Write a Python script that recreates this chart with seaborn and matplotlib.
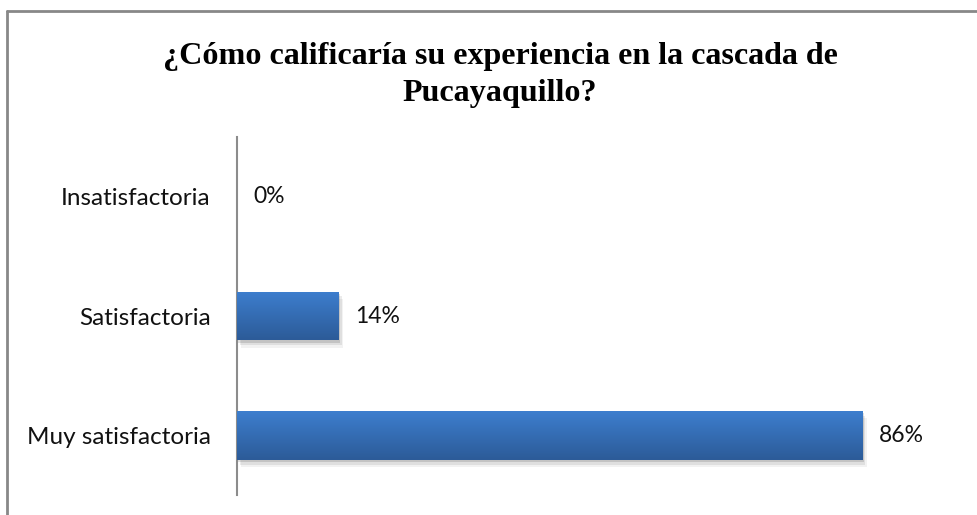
import numpy as np
import pandas as pd
import matplotlib
matplotlib.use("Agg")
import matplotlib.pyplot as plt
from matplotlib.lines import Line2D
from matplotlib.patches import Rectangle
import seaborn as sns

categories = ["Insatisfactoria", "Satisfactoria", "Muy satisfactoria"]
values = [0.0, 0.14, 0.86]
labels = ["0%", "14%", "86%"]
title = "¿Cómo calificaría su experiencia en la cascada de\nPucayaquillo?"

sns.set_theme(style="white")
plt.rcParams['font.family'] = ['Lato', 'DejaVu Sans']

W, H = 978, 515
fig = plt.figure(figsize=(W / 100, H / 100), dpi=100)
ax = fig.add_axes([237 / W, (H - 495) / H, 727 / W, 358 / H])

df = pd.DataFrame({"cat": categories, "val": values})
sns.barplot(data=df, x="val", y="cat", order=categories, orient="h",
            width=0.41, color="#3A78C4", ax=ax, saturation=1, linewidth=0)

ax.set_xlim(0, 1.0)
ax.set_ylim(2.5, -0.5)

# gradient fill + shadow
grad = np.linspace(0, 1, 100).reshape(-1, 1)
top = np.array([0x3D, 0x7E, 0xCE]) / 255
bot = np.array([0x2C, 0x5B, 0x98]) / 255
img = top[None, None, :] * (1 - grad[:, :, None]) + bot[None, None, :] * grad[:, :, None]
for p in list(ax.patches):
    x0, y0 = p.get_x(), p.get_y()
    w, h = p.get_width(), p.get_height()
    if w <= 0:
        continue
    p.set_edgecolor("none")
    for k, a in enumerate([0.12, 0.08, 0.05]):
        sh = Rectangle((x0 + 0.002 * (k + 1), y0 + 0.02 * (k + 1)), w, h,
                       facecolor="black", alpha=a, edgecolor="none", zorder=1)
        ax.add_patch(sh)
    p.set_zorder(2)
    im = ax.imshow(img, extent=[x0, x0 + w, y0 + h, y0], aspect="auto",
                   zorder=3, interpolation="bicubic")
    im.set_clip_path(p)

ax.set_xlim(0, 1.0)
ax.set_ylim(2.5, -0.5)

for i, (v, lab) in enumerate(zip(values, labels)):
    ax.annotate(lab, xy=(v, i), xytext=(12, 0), textcoords="offset points",
                ha="left", va="center", fontsize=16.5, color="#111111")

for s in ["top", "right", "bottom"]:
    ax.spines[s].set_visible(False)
ax.spines["left"].set_color("#8C8C8C")
ax.spines["left"].set_linewidth(1.5)
ax.set_xticks([])
ax.set_xlabel("")
ax.set_ylabel("")
ax.tick_params(axis="y", length=0, pad=19, labelsize=17.5, labelcolor="#111111")

fig.text(500 / W, 1 - 75 / H, title, ha="center", va="center",
         fontsize=23.1, fontweight="bold", family="Liberation Serif",
         linespacing=1.34, color="black")

# chart border
fig.add_artist(Line2D([7.5 / W, 1.0], [1 - 10.5 / H, 1 - 10.5 / H],
                      transform=fig.transFigure, color="#888888", lw=2))
fig.add_artist(Line2D([7.5 / W, 7.5 / W], [0, 1 - 10.5 / H],
                      transform=fig.transFigure, color="#888888", lw=2))

fig.savefig("out.png", dpi=100, facecolor="white")
